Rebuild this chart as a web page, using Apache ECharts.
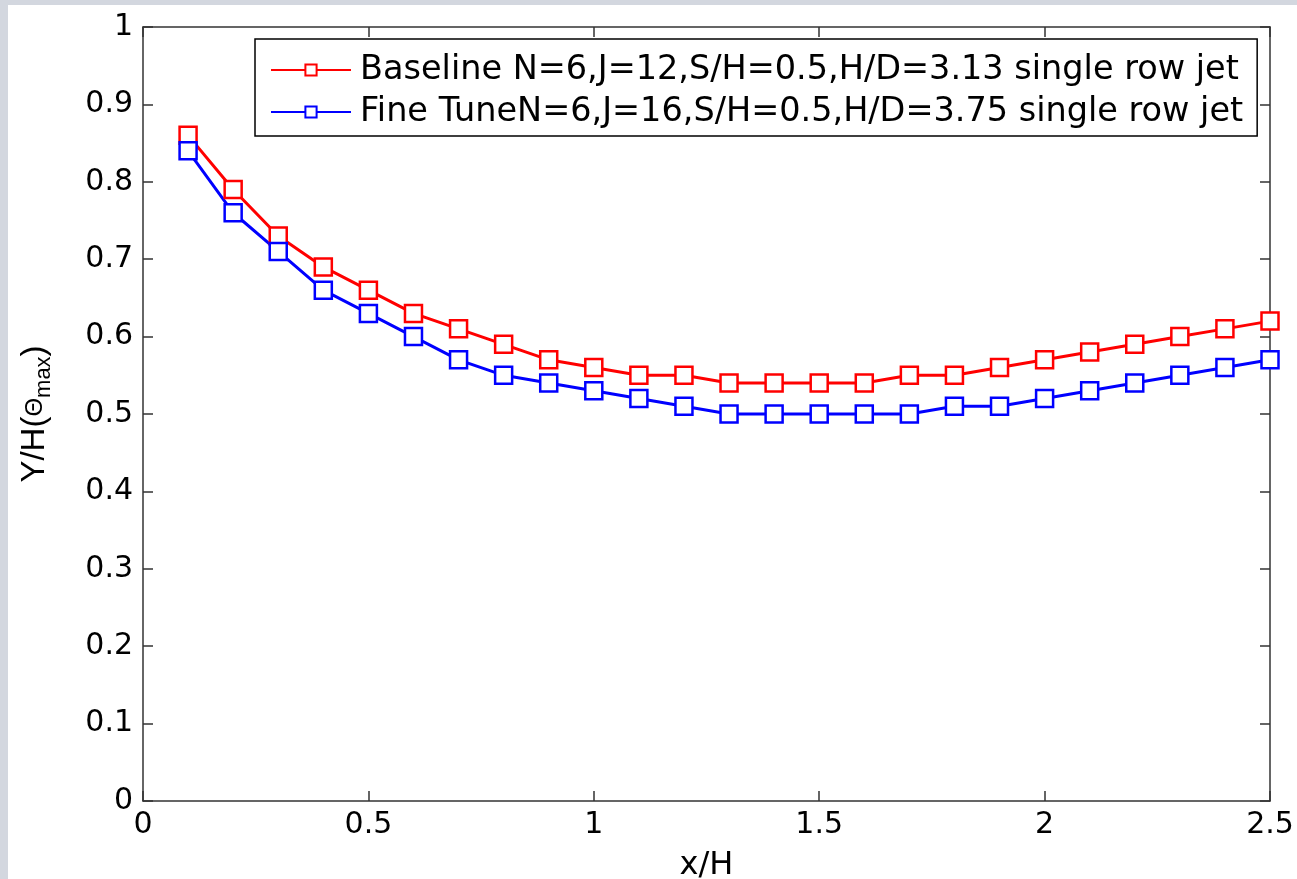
<!DOCTYPE html>
<html>
<head>
<meta charset="utf-8">
<script src="https://cdn.jsdelivr.net/npm/echarts@6/dist/echarts.min.js"></script>
<style>
  html, body { margin: 0; padding: 0; background: #d3d7df; overflow: hidden; }
  #chart { position: absolute; left: 8px; top: 5px; width: 1289px; height: 874px; background: #fff; }
</style>
</head>
<body>
<div id="chart"></div>
<script>
const xValues = [0.1, 0.2, 0.3, 0.4, 0.5, 0.6, 0.7, 0.8, 0.9, 1.0, 1.1, 1.2, 1.3,
  1.4, 1.5, 1.6, 1.7, 1.8, 1.9, 2.0, 2.1, 2.2, 2.3, 2.4, 2.5];
const baseline = [0.86, 0.79, 0.73, 0.69, 0.66, 0.63, 0.61, 0.59, 0.57, 0.56, 0.55, 0.55, 0.54,
  0.54, 0.54, 0.54, 0.55, 0.55, 0.56, 0.57, 0.58, 0.59, 0.60, 0.61, 0.62];
const fineTune = [0.84, 0.76, 0.71, 0.66, 0.63, 0.60, 0.57, 0.55, 0.54, 0.53, 0.52, 0.51, 0.50,
  0.50, 0.50, 0.50, 0.50, 0.51, 0.51, 0.52, 0.53, 0.54, 0.55, 0.56, 0.57];
const seriesNames = [
  'Baseline N=6,J=12,S/H=0.5,H/D=3.13 single row jet',
  'Fine TuneN=6,J=16,S/H=0.5,H/D=3.75 single row jet'
];

// the reference text is wide, DejaVu gets closest in width
const wideFont = '"DejaVu Sans", sans-serif';
const font = '"Liberation Sans", Arial, sans-serif';
const axisColor = '#333';

const chart = echarts.init(document.getElementById('chart'), null, { renderer: 'canvas' });

function pairs(ys) {
  return xValues.map((x, i) => [x, ys[i]]);
}

function lineSeries(name, ys, color) {
  return {
    name: name,
    type: 'line',
    data: pairs(ys),
    symbol: 'rect',
    symbolSize: 17,
    lineStyle: { color: color, width: 3 },
    itemStyle: { color: '#fff', borderColor: color, borderWidth: 2.5 },
    emphasis: { disabled: true },
    animation: false
  };
}

const tick = { inside: true, length: 10, lineStyle: { color: axisColor, width: 1.5 } };
const line = { onZero: false, lineStyle: { color: axisColor, width: 1.5 } };

chart.setOption({
  animation: false,
  textStyle: { fontFamily: wideFont },
  grid: { left: 135, right: 27, top: 22, bottom: 78, containLabel: false, outerBoundsMode: 'none' },
  legend: {
    orient: 'vertical',
    left: 247,
    top: 34,
    padding: [14, 14, 7, 15],
    itemGap: 8,
    itemWidth: 80,
    itemHeight: 14,
    backgroundColor: '#fff',
    borderColor: '#000',
    borderWidth: 1.5,
    textStyle: { fontFamily: wideFont, fontSize: 33.5, color: '#000', padding: [0, 0, 0, 4] },
    data: seriesNames
  },
  xAxis: [
    {
      type: 'value', min: 0, max: 2.5, interval: 0.5,
      name: 'x/H', nameLocation: 'middle', nameGap: 49,
      nameTextStyle: { fontFamily: wideFont, fontSize: 32, color: '#000' },
      axisLine: line,
      axisTick: tick,
      axisLabel: { fontFamily: wideFont, fontSize: 30, color: '#000', margin: 9 },
      splitLine: { show: false }
    },
    {
      type: 'value', min: 0, max: 2.5, interval: 0.5, position: 'top',
      axisLine: line,
      axisTick: tick,
      axisLabel: { show: false },
      splitLine: { show: false }
    }
  ],
  yAxis: [
    {
      type: 'value', min: 0, max: 1, interval: 0.1,
      name: 'Y/H({t|Θ}{s|max})', nameLocation: 'middle', nameGap: 88, nameRotate: 90,
      nameTextStyle: {
        fontFamily: font, fontSize: 33, color: '#000',
        rich: {
          t: { fontFamily: font, fontSize: 24, color: '#000' },
          s: { fontFamily: font, fontSize: 22, color: '#000', padding: [18, 0, 0, 0] }
        }
      },
      axisLine: line,
      axisTick: tick,
      axisLabel: { fontFamily: wideFont, fontSize: 30, color: '#000', margin: 10 },
      splitLine: { show: false }
    },
    {
      type: 'value', min: 0, max: 1, interval: 0.1, position: 'right',
      axisLine: line,
      axisTick: tick,
      axisLabel: { show: false },
      splitLine: { show: false }
    }
  ],
  series: [
    lineSeries(seriesNames[0], baseline, '#ff0000'),
    lineSeries(seriesNames[1], fineTune, '#0000ff')
  ]
});
</script>
</body>
</html>
